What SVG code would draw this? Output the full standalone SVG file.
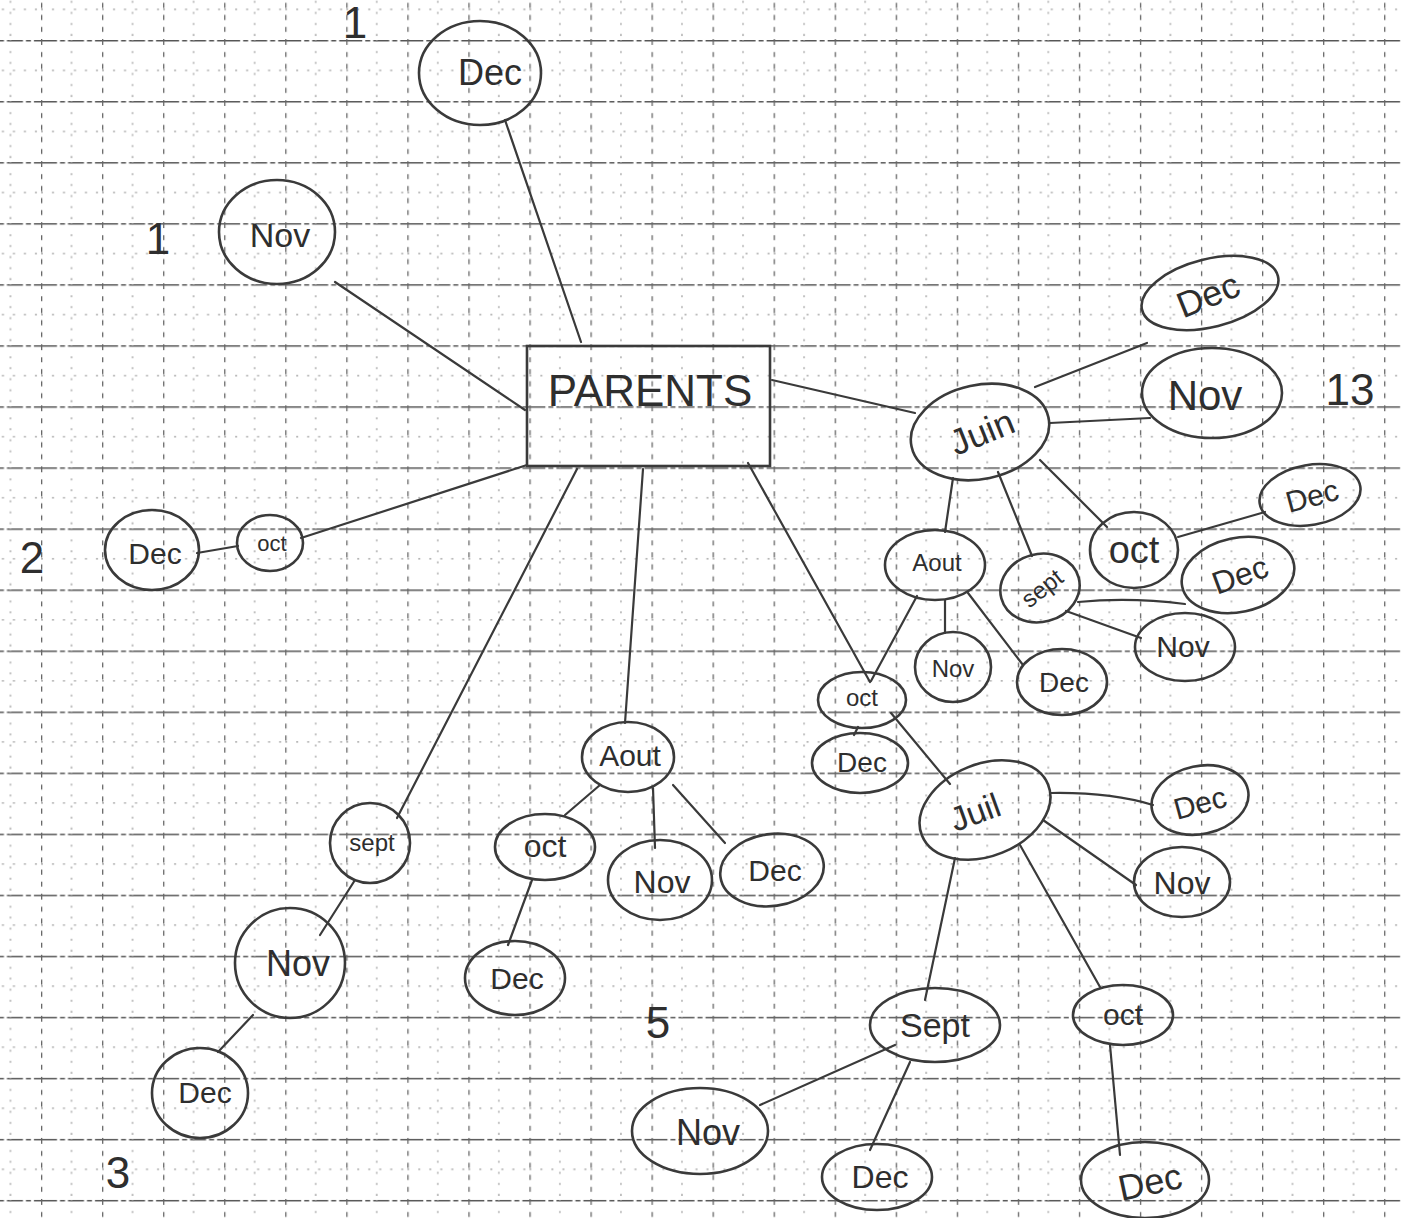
<svg xmlns="http://www.w3.org/2000/svg" width="1401" height="1218" viewBox="0 0 1401 1218">
<style>
.n{fill:none;stroke:#3a3a3a;stroke-width:2.6}
.t{font-family:"Liberation Sans",Arial,sans-serif;fill:#2e2e2e;text-anchor:middle;dominant-baseline:central}
.e{fill:none;stroke:#3a3a3a;stroke-width:2.2;stroke-linecap:round}
.num{font-family:"Liberation Sans",Arial,sans-serif;fill:#2e2e2e;font-size:44px;text-anchor:middle;dominant-baseline:central}
</style>
<defs>
<pattern id="grid" patternUnits="userSpaceOnUse" x="41" y="40" width="61.05" height="61.05">
<line x1="0" y1="0.5" x2="61.05" y2="0.5" stroke="#555" stroke-width="2" stroke-dasharray="16 3 5 3"/>
<line x1="0.5" y1="0" x2="0.5" y2="61.05" stroke="#666" stroke-width="1.6" stroke-dasharray="5 7"/>
<line x1="30.5" y1="0" x2="30.5" y2="61.05" stroke="#999" stroke-width="1.2" stroke-dasharray="2 9"/>
<line x1="0" y1="30.5" x2="61.05" y2="30.5" stroke="#999" stroke-width="1.2" stroke-dasharray="2 9"/>
</pattern>
</defs>
<rect width="1401" height="1218" fill="#fff"/>
<rect width="1401" height="1218" fill="url(#grid)"/>

<g id="connectors">
<line class="e" x1="505" y1="120" x2="581" y2="342"/>
<line class="e" x1="335" y1="282" x2="525" y2="410"/>
<line class="e" x1="301" y1="538" x2="527" y2="465"/>
<line class="e" x1="197" y1="553" x2="238" y2="546"/>
<line class="e" x1="577" y1="469" x2="397" y2="818"/>
<line class="e" x1="643" y1="469" x2="625" y2="723"/>
<line class="e" x1="748" y1="463" x2="870" y2="682"/>
<line class="e" x1="772" y1="380" x2="915" y2="413"/>
<line class="e" x1="1035" y1="387" x2="1147" y2="343"/>
<line class="e" x1="1050" y1="423" x2="1150" y2="418"/>
<line class="e" x1="1040" y1="460" x2="1107" y2="527"/>
<line class="e" x1="998" y1="472" x2="1032" y2="556"/>
<line class="e" x1="953" y1="478" x2="945" y2="532"/>
<line class="e" x1="917" y1="596" x2="871" y2="681"/>
<line class="e" x1="945" y1="600" x2="945" y2="633"/>
<line class="e" x1="968" y1="593" x2="1023" y2="665"/>
<path class="e" d="M1078,602 Q1130,597 1185,604"/>
<line class="e" x1="1066" y1="611" x2="1141" y2="638"/>
<line class="e" x1="1178" y1="537" x2="1265" y2="512"/>
<line class="e" x1="858" y1="727" x2="854" y2="735"/>
<line class="e" x1="891" y1="713" x2="950" y2="784"/>
<path class="e" d="M1051,793 Q1110,792 1153,805"/>
<line class="e" x1="1043" y1="820" x2="1136" y2="885"/>
<line class="e" x1="1020" y1="845" x2="1100" y2="987"/>
<line class="e" x1="955" y1="858" x2="925" y2="1000"/>
<line class="e" x1="895" y1="1045" x2="760" y2="1105"/>
<line class="e" x1="910" y1="1062" x2="870" y2="1150"/>
<line class="e" x1="1110" y1="1045" x2="1120" y2="1155"/>
<line class="e" x1="600" y1="785" x2="565" y2="815"/>
<line class="e" x1="653" y1="788" x2="655" y2="848"/>
<line class="e" x1="673" y1="785" x2="725" y2="843"/>
<line class="e" x1="532" y1="880" x2="508" y2="945"/>
<line class="e" x1="355" y1="880" x2="320" y2="935"/>
<line class="e" x1="253" y1="1015" x2="218" y2="1052"/>
</g>

<g id="parents"><rect class="n" x="527" y="346" width="243" height="120" stroke-width="4.5"/><text class="t" x="650" y="390" font-size="44">PARENTS</text></g>
<g id="dec-top"><ellipse class="n" cx="480" cy="73" rx="61" ry="52"/><text class="t" x="490" y="72" font-size="36">Dec</text></g>
<g id="nov-topleft"><ellipse class="n" cx="277" cy="232" rx="58" ry="52" stroke-width="3.2"/><text class="t" x="280" y="235" font-size="34">Nov</text></g>
<g id="oct-left"><ellipse class="n" cx="270" cy="543" rx="33" ry="28"/><text class="t" x="272" y="543" font-size="22">oct</text></g>
<g id="dec-left"><ellipse class="n" cx="152" cy="550" rx="47" ry="40"/><text class="t" x="155" y="553" font-size="30">Dec</text></g>

<g id="juin"><ellipse class="n" cx="980" cy="432" rx="70" ry="47" transform="rotate(-12 980 432)"/><text class="t" x="982" y="432" font-size="36" transform="rotate(-22 982 432)">Juin</text></g>
<g id="dec-tr"><ellipse class="n" cx="1210" cy="293" rx="70" ry="34" transform="rotate(-14 1210 293)" stroke-width="3.6"/><text class="t" x="1208" y="295" font-size="36" transform="rotate(-22 1208 295)">Dec</text></g>
<g id="nov-r"><ellipse class="n" cx="1212" cy="393" rx="70" ry="45"/><text class="t" x="1205" y="395" font-size="42">Nov</text></g>
<g id="dec-r1"><ellipse class="n" cx="1310" cy="495" rx="51" ry="30" transform="rotate(-10 1310 495)"/><text class="t" x="1312" y="496" font-size="30" transform="rotate(-15 1312 496)">Dec</text></g>
<g id="oct-r"><ellipse class="n" cx="1134" cy="550" rx="44" ry="38"/><text class="t" x="1134" y="550" font-size="38">oct</text></g>
<g id="dec-r2"><ellipse class="n" cx="1238" cy="575" rx="57" ry="37" transform="rotate(-12 1238 575)"/><text class="t" x="1240" y="575" font-size="32" transform="rotate(-20 1240 575)">Dec</text></g>
<g id="sept-r"><ellipse class="n" cx="1040" cy="588" rx="40" ry="34" transform="rotate(-15 1040 588)"/><text class="t" x="1042" y="588" font-size="24" transform="rotate(-38 1042 588)">sept</text></g>
<g id="nov-r2"><ellipse class="n" cx="1185" cy="647" rx="50" ry="34"/><text class="t" x="1183" y="646" font-size="30">Nov</text></g>
<g id="aout-r"><ellipse class="n" cx="935" cy="565" rx="50" ry="35"/><text class="t" x="937" y="562" font-size="24">Aout</text></g>
<g id="nov-s"><ellipse class="n" cx="953" cy="667" rx="38" ry="35"/><text class="t" x="953" y="668" font-size="24">Nov</text></g>
<g id="dec-s"><ellipse class="n" cx="1062" cy="682" rx="45" ry="33"/><text class="t" x="1064" y="682" font-size="28">Dec</text></g>
<g id="oct-grey"><ellipse class="n" cx="862" cy="700" rx="44" ry="28" stroke="#666"/><text class="t" x="862" y="697" font-size="24" fill="#777">oct</text></g>
<g id="dec-m"><ellipse class="n" cx="860" cy="763" rx="48" ry="30"/><text class="t" x="862" y="762" font-size="28">Dec</text></g>
<g id="juil"><ellipse class="n" cx="985" cy="810" rx="68" ry="46" transform="rotate(-22 985 810)"/><text class="t" x="975" y="812" font-size="34" transform="rotate(-20 975 812)">Juil</text></g>
<g id="dec-j"><ellipse class="n" cx="1200" cy="800" rx="49" ry="34" transform="rotate(-12 1200 800)"/><text class="t" x="1200" y="803" font-size="30" transform="rotate(-15 1200 803)">Dec</text></g>
<g id="nov-j"><ellipse class="n" cx="1182" cy="882" rx="48" ry="35"/><text class="t" x="1182" y="883" font-size="32">Nov</text></g>
<g id="oct-j"><ellipse class="n" cx="1123" cy="1015" rx="50" ry="30"/><text class="t" x="1123" y="1014" font-size="30">oct</text></g>
<g id="sept-b"><ellipse class="n" cx="935" cy="1025" rx="65" ry="37"/><text class="t" x="935" y="1025" font-size="34">Sept</text></g>
<g id="nov-b"><ellipse class="n" cx="700" cy="1131" rx="68" ry="43"/><text class="t" x="708" y="1132" font-size="36">Nov</text></g>
<g id="dec-b1"><ellipse class="n" cx="877" cy="1177" rx="55" ry="33"/><text class="t" x="880" y="1177" font-size="32">Dec</text></g>
<g id="dec-b2"><ellipse class="n" cx="1145" cy="1180" rx="64" ry="38"/><text class="t" x="1150" y="1182" font-size="36" transform="rotate(-12 1150 1182)">Dec</text></g>

<g id="aout-c"><ellipse class="n" cx="628" cy="757" rx="46" ry="35"/><text class="t" x="630" y="755" font-size="30">Aout</text></g>
<g id="oct-c"><ellipse class="n" cx="545" cy="847" rx="50" ry="33"/><text class="t" x="545" y="846" font-size="32">oct</text></g>
<g id="nov-c"><ellipse class="n" cx="660" cy="880" rx="52" ry="40"/><text class="t" x="662" y="882" font-size="32">Nov</text></g>
<g id="dec-c"><ellipse class="n" cx="772" cy="870" rx="52" ry="36" transform="rotate(-8 772 870)"/><text class="t" x="775" y="870" font-size="30">Dec</text></g>
<g id="dec-c2"><ellipse class="n" cx="515" cy="978" rx="50" ry="37"/><text class="t" x="517" y="978" font-size="30">Dec</text></g>

<g id="sept-l"><ellipse class="n" cx="370" cy="843" rx="40" ry="40"/><text class="t" x="372" y="842" font-size="24">sept</text></g>
<g id="nov-l"><ellipse class="n" cx="290" cy="963" rx="55" ry="55"/><text class="t" x="298" y="963" font-size="36">Nov</text></g>
<g id="dec-l"><ellipse class="n" cx="200" cy="1093" rx="48" ry="45"/><text class="t" x="205" y="1092" font-size="30">Dec</text></g>

<g id="labels">
<text class="num" x="355" y="22">1</text>
<text class="num" x="158" y="238">1</text>
<text class="num" x="32" y="557">2</text>
<text class="num" x="118" y="1172">3</text>
<text class="num" x="658" y="1022">5</text>
<text class="num" x="1350" y="389">13</text>
</g>
</svg>
